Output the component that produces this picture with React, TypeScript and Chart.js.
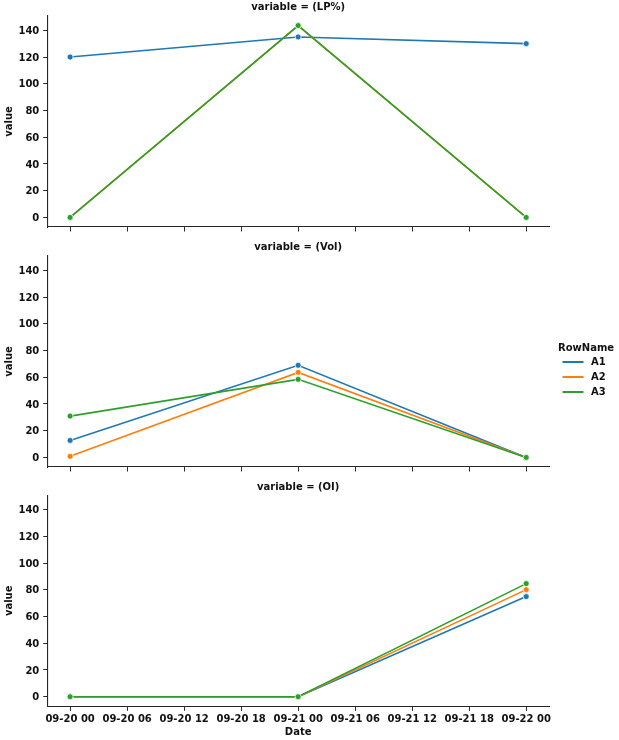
import React, { useEffect, useRef } from 'react';
import { Chart, registerables } from 'chart.js';

Chart.register(...registerables);

// ---- data ----
const xHours = [0, 24, 48]; // hours since 09-20 00
const xTickHours = [0, 6, 12, 18, 24, 30, 36, 42, 48];
const xTickLabels = [
  '09-20 00', '09-20 06', '09-20 12', '09-20 18', '09-21 00',
  '09-21 06', '09-21 12', '09-21 18', '09-22 00',
];
const yTicks = [0, 20, 40, 60, 80, 100, 120, 140];
const seriesNames = ['A1', 'A2', 'A3'];
const seriesColors = ['#1f77b4', '#ff7f0e', '#2ca02c'];
const facetNames = ['variable = (LP%)', 'variable = (Vol)', 'variable = (OI)'];

const lpA1 = [120, 135, 130];
const lpA2 = [0, 143.5, 0];
const lpA3 = [0, 143.5, 0];
const volA1 = [12.7, 68.9, 0];
const volA2 = [0.8, 63.6, 0];
const volA3 = [30.9, 58.4, 0];
const oiA1 = [0, 0, 74.9];
const oiA2 = [0, 0, 80.1];
const oiA3 = [0, 0, 84.6];

const panelSeries = [
  [lpA1, lpA2, lpA3],
  [volA1, volA2, volA3],
  [oiA1, oiA2, oiA3],
];

// ---- layout / style ----
const W = 619;
const AXIS_LEFT = 47.3;
const AXIS_RIGHT = 549;
const panelLayout = [
  { top: 0, height: 240, areaTop: 16, areaBottom: 227 },
  { top: 240, height: 240, areaTop: 16, areaBottom: 227 },
  { top: 480, height: 260, areaTop: 15.3, areaBottom: 226.3 },
];
const FONT = 'DejaVu Sans';
const TEXT = '#111111';
const SPINE = '#262626';

function makeConfig(idx: number): any {
  const lay = panelLayout[idx];
  const isBottom = idx === panelSeries.length - 1;
  const datasets = panelSeries[idx].map((vals, i) => ({
    label: seriesNames[i],
    data: xHours.map((x, j) => ({ x, y: vals[j] })),
    borderColor: seriesColors[i],
    backgroundColor: seriesColors[i],
    pointBackgroundColor: seriesColors[i],
    pointBorderColor: '#ffffff',
    pointBorderWidth: 0.75,
    pointRadius: 3,
    borderWidth: 1.6,
    tension: 0,
    order: seriesNames.length - 1 - i,
  }));

  const facetTitle = {
    id: 'facetTitle',
    afterDraw(chart: any) {
      const { ctx, chartArea } = chart;
      ctx.save();
      ctx.font = `bold 10px "${FONT}"`;
      ctx.fillStyle = TEXT;
      ctx.textAlign = 'center';
      ctx.textBaseline = 'middle';
      ctx.fillText(facetNames[idx], (chartArea.left + chartArea.right) / 2, 7.5);
      ctx.restore();
    },
  };

  const legendPlugin = {
    id: 'facetLegend',
    afterDraw(chart: any) {
      if (idx !== 1) return;
      const { ctx } = chart;
      ctx.save();
      ctx.font = `bold 10px "${FONT}"`;
      ctx.fillStyle = TEXT;
      ctx.textAlign = 'left';
      ctx.textBaseline = 'middle';
      ctx.fillText('RowName', 558, 108);
      seriesNames.forEach((name, i) => {
        const y = 122 + 15 * i;
        ctx.strokeStyle = seriesColors[i];
        ctx.lineWidth = 2;
        ctx.beginPath();
        ctx.moveTo(562.5, y);
        ctx.lineTo(583.5, y);
        ctx.stroke();
        ctx.fillStyle = TEXT;
        ctx.fillText(name, 591, y + 0.5);
      });
      ctx.restore();
    },
  };

  return {
    type: 'line',
    data: { datasets },
    plugins: [facetTitle, legendPlugin],
    options: {
      responsive: false,
      animation: false,
      events: [],
      layout: { padding: { left: 0, right: W - AXIS_RIGHT, top: lay.areaTop, bottom: 0 } },
      plugins: { legend: { display: false }, tooltip: { enabled: false }, title: { display: false } },
      scales: {
        x: {
          type: 'linear',
          min: -2.4,
          max: 50.4,
          afterBuildTicks: (s: any) => {
            s.ticks = xTickHours.map((v) => ({ value: v }));
          },
          afterFit: (s: any) => {
            s.height = lay.height - lay.areaBottom;
          },
          ticks: {
            autoSkip: false,
            maxRotation: 0,
            minRotation: 0,
            padding: 3,
            color: TEXT,
            font: { family: FONT, weight: 'bold', size: 10 },
            callback: (v: number) => (isBottom ? xTickLabels[xTickHours.indexOf(v)] : ''),
          },
          grid: { drawOnChartArea: false, drawTicks: true, tickLength: 4.5, tickColor: SPINE, tickWidth: 1 },
          border: { display: true, color: SPINE, width: 1.1 },
          title: {
            display: isBottom,
            text: 'Date',
            color: TEXT,
            font: { family: FONT, weight: 'bold', size: 10 },
            padding: { top: 0, bottom: 2 },
          },
        },
        y: {
          type: 'linear',
          min: -7.175,
          max: 150.675,
          afterBuildTicks: (s: any) => {
            s.ticks = yTicks.map((v) => ({ value: v }));
          },
          afterFit: (s: any) => {
            s.width = AXIS_LEFT;
          },
          ticks: {
            padding: 4,
            labelOffset: 1,
            color: TEXT,
            font: { family: FONT, weight: 'bold', size: 10 },
          },
          grid: { drawOnChartArea: false, drawTicks: true, tickLength: 4, tickColor: SPINE, tickWidth: 1 },
          border: { display: true, color: SPINE, width: 1.1 },
          title: {
            display: true,
            text: 'value',
            color: TEXT,
            font: { family: FONT, weight: 'bold', size: 10 },
            padding: { top: 3, bottom: 0 },
          },
        },
      },
    },
  };
}

export default function App() {
  const r0 = useRef<HTMLCanvasElement>(null);
  const r1 = useRef<HTMLCanvasElement>(null);
  const r2 = useRef<HTMLCanvasElement>(null);
  const refs = [r0, r1, r2];

  useEffect(() => {
    const charts = refs.map((r, i) => new Chart(r.current as HTMLCanvasElement, makeConfig(i)));
    return () => charts.forEach((c) => c.destroy());
  }, []);

  return (
    <div style={{ position: 'absolute', left: 0, top: 0, width: W, height: 740, background: '#ffffff' }}>
      {panelLayout.map((p, i) => (
        <canvas
          key={i}
          ref={refs[i]}
          width={W}
          height={p.height}
          style={{ position: 'absolute', left: 0, top: p.top, width: W, height: p.height }}
        />
      ))}
    </div>
  );
}
